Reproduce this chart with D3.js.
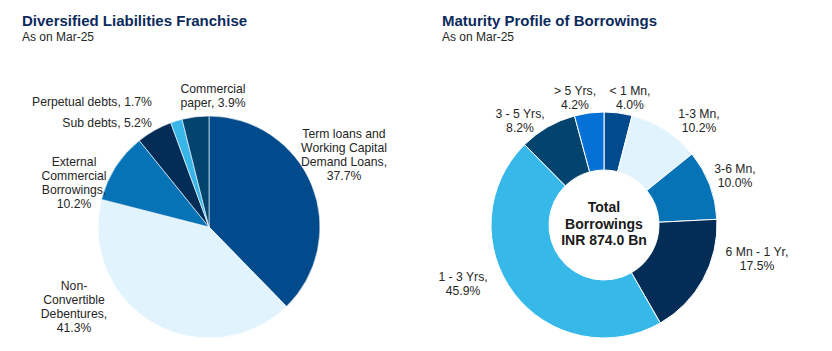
<!DOCTYPE html>
<html lang="en">
<head>
<meta charset="UTF-8">
<title>Liabilities and borrowings</title>
<script src="https://d3js.org/d3.v7.min.js"></script>
<style>
  body { margin: 0; background: #fff; }
  svg text { font-family: "Liberation Sans", Arial, sans-serif; }
  .title { font-size: 15px; font-weight: bold; fill: #0c2a5c; }
  .sub { font-size: 12px; fill: #262626; }
  .lbl { font-size: 12.2px; fill: #262626; }
</style>
</head>
<body>
<script>
// left pie: funding mix
const mixNames = [
  ["Term loans and", "Working Capital", "Demand Loans,"],
  ["Non-", "Convertible", "Debentures,"],
  ["External", "Commercial", "Borrowings,"],
  ["Sub debts,"],
  ["Perpetual debts,"],
  ["Commercial", "paper,"]
];
const mixValues = [37.7, 41.3, 10.2, 5.2, 1.7, 3.9];
const mixColors = ["#014b8c", "#e1f3fc", "#0673b7", "#032c57", "#38b6e8", "#03446f"];

// right donut: maturity profile
const matNames = ["< 1 Mn,", "1-3 Mn,", "3-6 Mn,", "6 Mn - 1 Yr,", "1 - 3 Yrs,", "3 - 5 Yrs,", "> 5 Yrs,"];
const matValues = [4.0, 10.2, 10.0, 17.5, 45.9, 8.2, 4.2];
const matColors = ["#014b8c", "#e1f3fc", "#0673b7", "#032c57", "#36b8e8", "#03446f", "#0571d6"];
const totalText = ["Total", "Borrowings", "INR 874.0 Bn"];

// label placement (offset of label block centre from chart centre)
const mixLabelPos = [[135, -72], [-135, 80], [-135, -44], [-102, -104], [-117, -125], [4, -131]];
const matLabelPos = [[26, -127], [95, -104], [131, -49], [153, 34], [-141, 59], [-84, -104], [-29, -127]];

const W = 832, H = 351;
const svg = d3.select("body").append("svg").attr("width", W).attr("height", H);

// titles
function heading(x, t) {
  svg.append("text").attr("class", "title").attr("x", x).attr("y", 26).text(t);
  svg.append("text").attr("class", "sub").attr("x", x).attr("y", 41).text("As on Mar-25");
}
heading(22, "Diversified Liabilities Franchise");
heading(442, "Maturity Profile of Borrowings");

const pie = d3.pie().sort(null).value(d => d);

function drawLabels(g, lines, pos, lh) {
  lines.forEach((ls, i) => {
    const t = g.append("text").attr("class", "lbl").attr("text-anchor", "middle");
    const y0 = pos[i][1] - (ls.length - 1) * lh / 2 + 4;
    ls.forEach((s, k) => {
      t.append("tspan").attr("x", pos[i][0]).attr("y", y0 + k * lh).text(s);
    });
  });
}

// left pie
const g1 = svg.append("g").attr("transform", "translate(209,227)");
const arc1 = d3.arc().innerRadius(0).outerRadius(111);
g1.selectAll("path")
  .data(pie(mixValues))
  .enter().append("path")
  .attr("d", arc1)
  .attr("fill", (d, i) => mixColors[i])
  .attr("stroke", "#fff")
  .attr("stroke-width", 0.6);

const mixLines = mixNames.map((n, i) => {
  const ls = n.slice();
  const pct = mixValues[i].toFixed(1) + "%";
  if (ls.length === 1 || i === 5) ls[ls.length - 1] += " " + pct;
  else ls.push(pct);
  return ls;
});
drawLabels(g1, mixLines, mixLabelPos, 14);

// right donut
const g2 = svg.append("g").attr("transform", "translate(604,225)");
const arc2 = d3.arc().innerRadius(55).outerRadius(113);
g2.selectAll("path")
  .data(pie(matValues))
  .enter().append("path")
  .attr("d", arc2)
  .attr("fill", (d, i) => matColors[i])
  .attr("stroke", "#fff")
  .attr("stroke-width", 1);

const matLines = matNames.map((n, i) => [n, matValues[i].toFixed(1) + "%"]);
drawLabels(g2, matLines, matLabelPos, 13.5);

const ct = g2.append("text").attr("text-anchor", "middle")
  .style("font-size", "14px").style("font-weight", "bold").attr("fill", "#1a1a1a");
totalText.forEach((s, k) => {
  ct.append("tspan").attr("x", 0).attr("y", -13 + k * 16.5).text(s);
});
</script>
</body>
</html>
